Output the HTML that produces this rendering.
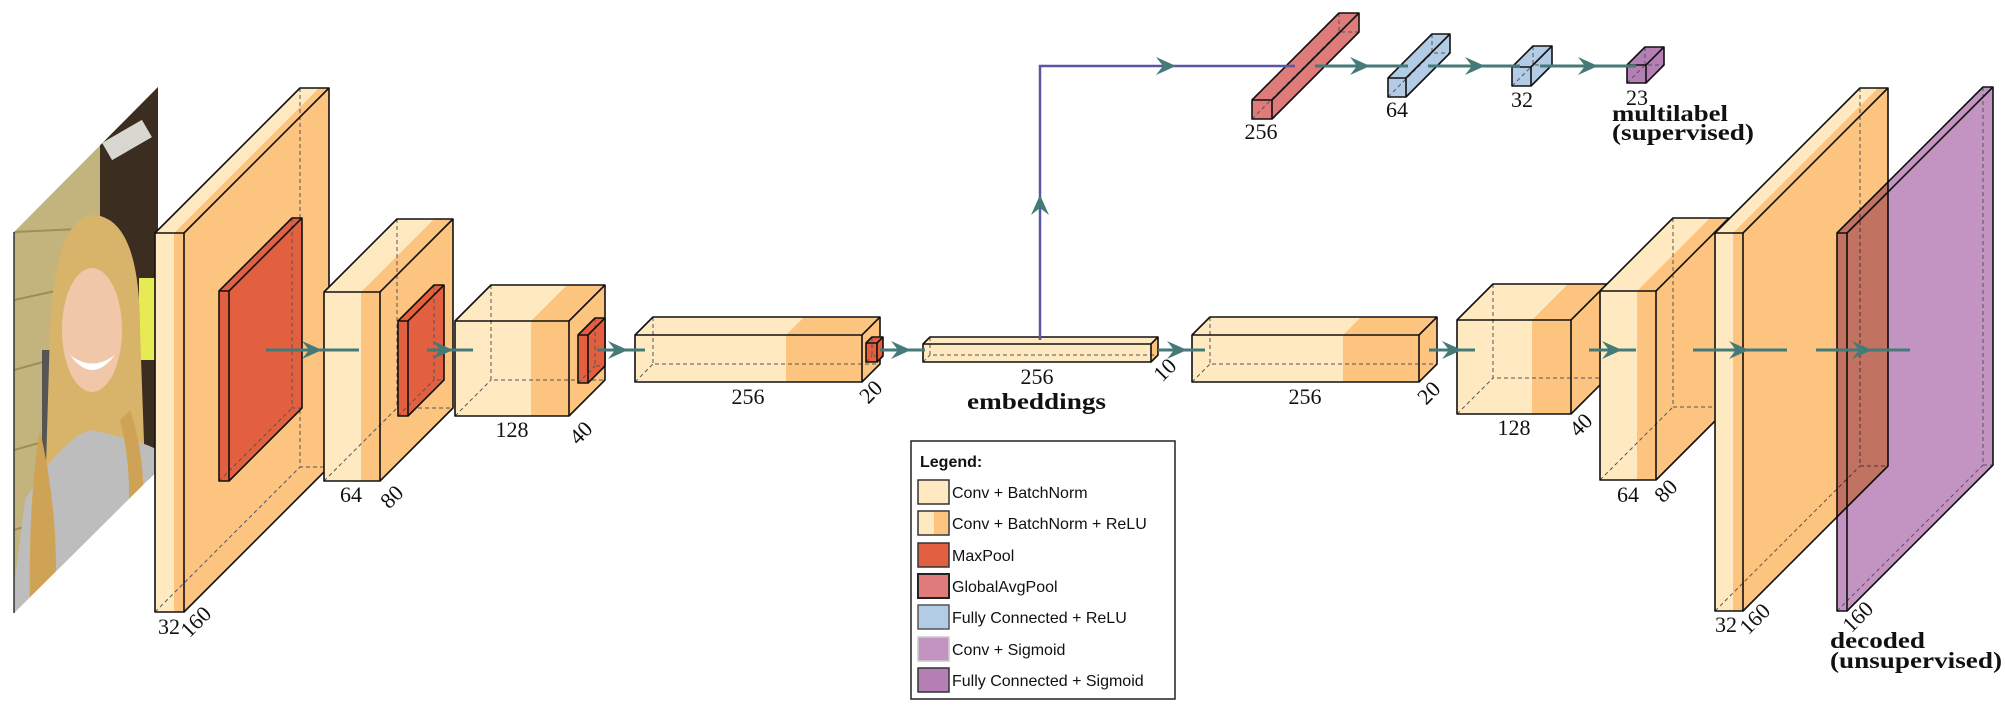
<!DOCTYPE html>
<html><head><meta charset="utf-8"><style>
html,body{margin:0;padding:0;background:#fff;}
svg{display:block;}
.n{font-family:"Liberation Serif",serif;font-size:22px;fill:#111;text-anchor:middle;}
.b{font-family:"Liberation Serif",serif;font-size:23px;font-weight:bold;fill:#111;}
.lg{font-family:"Liberation Sans",sans-serif;font-size:16px;fill:#111;}
</style></head><body>
<svg id="s" width="2005" height="713" viewBox="0 0 2005 713" xmlns="http://www.w3.org/2000/svg">
<defs>
<clipPath id="pc"><polygon points="14,232 158,87 158,470 14,613"/></clipPath>
</defs>
<g clip-path="url(#pc)">
<rect x="0" y="80" width="170" height="540" fill="#c2b47c"/>
<g stroke="#8c7f4c" stroke-width="2" opacity="0.7">
<line x1="14" y1="232" x2="100" y2="228"/><line x1="14" y1="300" x2="60" y2="290"/><line x1="14" y1="370" x2="50" y2="360"/><line x1="14" y1="450" x2="50" y2="440"/><line x1="14" y1="530" x2="45" y2="520"/>
</g>
<rect x="100" y="80" width="60" height="400" fill="#3b2d1f"/>
<rect x="104" y="130" width="46" height="20" fill="#d8d8d0" transform="rotate(-30 127 140)"/>
<rect x="139" y="278" width="20" height="82" fill="#e6ea55"/>
<rect x="42" y="350" width="8" height="150" fill="#555"/>
<path d="M50,330 Q55,215 95,215 Q140,220 140,330 L145,470 L130,560 L60,600 L45,500 Z" fill="#d8b46a"/>
<ellipse cx="92" cy="330" rx="30" ry="62" fill="#f0c7a8"/>
<path d="M70,355 Q92,385 115,355 Q92,372 70,355 Z" fill="#fff"/>
<path d="M10,620 L25,500 Q60,440 90,430 Q140,440 158,450 L158,620 Z" fill="#bdbdbd"/>
<path d="M40,430 Q60,520 55,600 L30,610 Q28,500 40,430 Z" fill="#cfa356"/>
<path d="M120,420 Q135,480 125,540 L140,540 Q150,470 130,410 Z" fill="#cfa356"/>
</g>
<line x1="14" y1="232" x2="14" y2="613" stroke="#333" stroke-width="1.5"/>
<g id="boxes"></g>
<g id="arrows"></g>
<text class="n" x="169" y="634">32</text>
<text class="n" x="196" y="629" transform="rotate(-45 196 622)">160</text>
<text class="n" x="351" y="502">64</text>
<text class="n" x="392" y="504" transform="rotate(-45 392 497)">80</text>
<text class="n" x="512" y="437">128</text>
<text class="n" x="581" y="440" transform="rotate(-45 581 433)">40</text>
<text class="n" x="748" y="404">256</text>
<text class="n" x="871" y="399" transform="rotate(-45 871 392)">20</text>
<text class="n" x="1037" y="384">256</text>
<text class="b" x="967" y="409" textLength="139" lengthAdjust="spacingAndGlyphs">embeddings</text>
<text class="n" x="1165" y="377" transform="rotate(-45 1165 370)">10</text>
<text class="n" x="1305" y="404">256</text>
<text class="n" x="1429" y="400" transform="rotate(-45 1429 393)">20</text>
<text class="n" x="1514" y="435">128</text>
<text class="n" x="1581" y="432" transform="rotate(-45 1581 425)">40</text>
<text class="n" x="1628" y="502">64</text>
<text class="n" x="1666" y="498" transform="rotate(-45 1666 491)">80</text>
<text class="n" x="1726" y="632">32</text>
<text class="n" x="1755" y="626" transform="rotate(-45 1755 619)">160</text>
<text class="n" x="1858" y="624" transform="rotate(-45 1858 617)">160</text>
<text class="b" x="1830" y="648" textLength="95" lengthAdjust="spacingAndGlyphs">decoded</text>
<text class="b" x="1830" y="668" textLength="172" lengthAdjust="spacingAndGlyphs">(unsupervised)</text>
<text class="n" x="1261" y="139">256</text>
<text class="n" x="1397" y="117">64</text>
<text class="n" x="1522" y="107">32</text>
<text class="n" x="1637" y="105">23</text>
<text class="b" x="1612" y="121" textLength="116" lengthAdjust="spacingAndGlyphs">multilabel</text>
<text class="b" x="1612" y="140" textLength="142" lengthAdjust="spacingAndGlyphs">(supervised)</text>
<rect x="911" y="441" width="264" height="258" fill="#fff" stroke="#222" stroke-width="1.5"/>
<text class="lg" x="920" y="467" font-weight="bold">Legend:</text>
<rect x="918" y="480" width="31" height="24" fill="#FFE9C0" stroke="#333" stroke-width="1.5"/>
<text class="lg" x="952" y="498">Conv + BatchNorm</text>
<rect x="918" y="511" width="31" height="24" fill="#FFE9C0" stroke="#333" stroke-width="1.5"/>
<rect x="934" y="512" width="14" height="22" fill="#FDC480"/>
<text class="lg" x="952" y="529">Conv + BatchNorm + ReLU</text>
<rect x="918" y="543" width="31" height="24" fill="#E2603F" stroke="#333" stroke-width="1.5"/>
<text class="lg" x="952" y="561">MaxPool</text>
<rect x="918" y="574" width="31" height="24" fill="#E07B7B" stroke="#222" stroke-width="2"/>
<text class="lg" x="952" y="592">GlobalAvgPool</text>
<rect x="918" y="605" width="31" height="24" fill="#B2CCE6" stroke="#555" stroke-width="1.5"/>
<text class="lg" x="952" y="623">Fully Connected + ReLU</text>
<rect x="918" y="637" width="31" height="24" fill="#C394C2" stroke="#ccc" stroke-width="1.5"/>
<text class="lg" x="952" y="655">Conv + Sigmoid</text>
<rect x="918" y="668" width="31" height="24" fill="#B47FB5" stroke="#333" stroke-width="1.5"/>
<text class="lg" x="952" y="686">Fully Connected + Sigmoid</text>
</svg>
<script>
var NS="http://www.w3.org/2000/svg";
var L="#FFE9C0",D="#FDC480";
function el(p,t,a){var e=document.createElementNS(NS,t);for(var k in a)e.setAttribute(k,a[k]);p.appendChild(e);return e;}
var B=document.getElementById("boxes");
function P(a){return a.map(function(p){return p[0]+","+p[1]}).join(" ");}
function box(x1,y1,x2,y2,d,o){
 var g=el(B,"g",o.blend?{style:"mix-blend-mode:multiply"}:{});
 var fl=o.front||L, side=o.side||D, xs=o.split||x2;
 var ds={stroke:"#555","stroke-width":1,"stroke-dasharray":"4,3",fill:"none"};
 el(g,"polygon",{points:P([[x1,y1],[xs,y1],[xs+d,y1-d],[x1+d,y1-d]]),fill:o.top||fl});
 if(o.split) el(g,"polygon",{points:P([[xs,y1],[x2,y1],[x2+d,y1-d],[xs+d,y1-d]]),fill:D});
 el(g,"polygon",{points:P([[x2,y1],[x2+d,y1-d],[x2+d,y2-d],[x2,y2]]),fill:side});
 el(g,"rect",{x:x1,y:y1,width:xs-x1,height:y2-y1,fill:fl});
 if(o.split) el(g,"rect",{x:xs,y:y1,width:x2-xs,height:y2-y1,fill:D});
 var h=el(g,"polyline",{points:P([[x1+d,y1-d],[x1+d,y2-d],[x2+d,y2-d]])});for(var k in ds)h.setAttribute(k,ds[k]);
 var h2=el(g,"line",{x1:x1,y1:y2,x2:x1+d,y2:y2-d});for(var k in ds)h2.setAttribute(k,ds[k]);
 var os={stroke:"#111","stroke-width":1.6,fill:"none","stroke-linejoin":"round"};
 var a=el(g,"rect",{x:x1,y:y1,width:x2-x1,height:y2-y1});for(var k in os)a.setAttribute(k,os[k]);
 var b=el(g,"polyline",{points:P([[x1,y1],[x1+d,y1-d],[x2+d,y1-d],[x2+d,y2-d],[x2,y2]])});for(var k in os)b.setAttribute(k,os[k]);
 var c=el(g,"line",{x1:x2,y1:y1,x2:x2+d,y2:y1-d});for(var k in os)c.setAttribute(k,os[k]);
}
var MP="#E2603F";
box(155,233,184,612,145,{split:174});
box(219,291,229,481,73,{front:MP,side:MP,top:MP});
box(324,292,380,481,73,{split:361});
box(398,321,408,416,36,{front:MP,side:MP,top:MP});
box(455,321,569,416,36,{split:531});
box(578,335,588,383,17,{front:MP,side:MP,top:MP});
box(635,335,862,382,18,{split:786});
box(866,343,877,362,6,{front:MP,side:MP,top:MP});
box(923,344,1151,362,7,{});
box(1192,335,1419,382,18,{split:1343});
box(1457,320,1571,414,36,{split:1532});
box(1600,291,1656,480,73,{split:1637});
box(1715,233,1743,611,145,{split:1733});
box(1837,233,1847,611,146,{front:"#C394C2",side:"#C394C2",top:"#C394C2",blend:1});
var G="#E07B7B",F="#B2CCE6",FS="#B47FB5";
box(1252,100,1272,119,87,{front:G,side:G,top:G});
box(1388,78,1406,97,44,{front:F,side:F,top:F});
box(1512,67,1531,86,21,{front:F,side:F,top:F});
box(1627,65,1646,83,18,{front:FS,side:FS,top:FS});
var A=document.getElementById("arrows");
var T="#447a78",PU="#5b56a3";
function head(tx,ty,dir,col){
 var p;
 if(dir=="r")p=[[tx,ty],[tx-20,ty-9],[tx-13,ty],[tx-20,ty+9]];
 else p=[[tx,ty],[tx-9,ty+20],[tx,ty+13],[tx+9,ty+20]];
 el(A,"polygon",{points:P(p),fill:col});
}
function ar(x1,x2,t,y,col){el(A,"line",{x1:x1,y1:y,x2:x2,y2:y,stroke:col||T,"stroke-width":3});head(t,y,"r",col||T);}
var arrs=[[266,359,322],[427,473,453],[597,645,628],[880,925,911],[1158,1205,1187],[1429,1475,1462],[1589,1636,1622],[1693,1787,1749],[1816,1910,1872]];
arrs.forEach(function(a){ar(a[0],a[1],a[2],350);});
el(A,"polyline",{points:"1040,340 1040,66 1295,66",fill:"none",stroke:PU,"stroke-width":2.5});
head(1040,195,"u",T);head(1176,66,"r",T);
ar(1315,1408,1370,66);ar(1428,1520,1485,66);ar(1540,1636,1598,66);
</script>
</body></html>
